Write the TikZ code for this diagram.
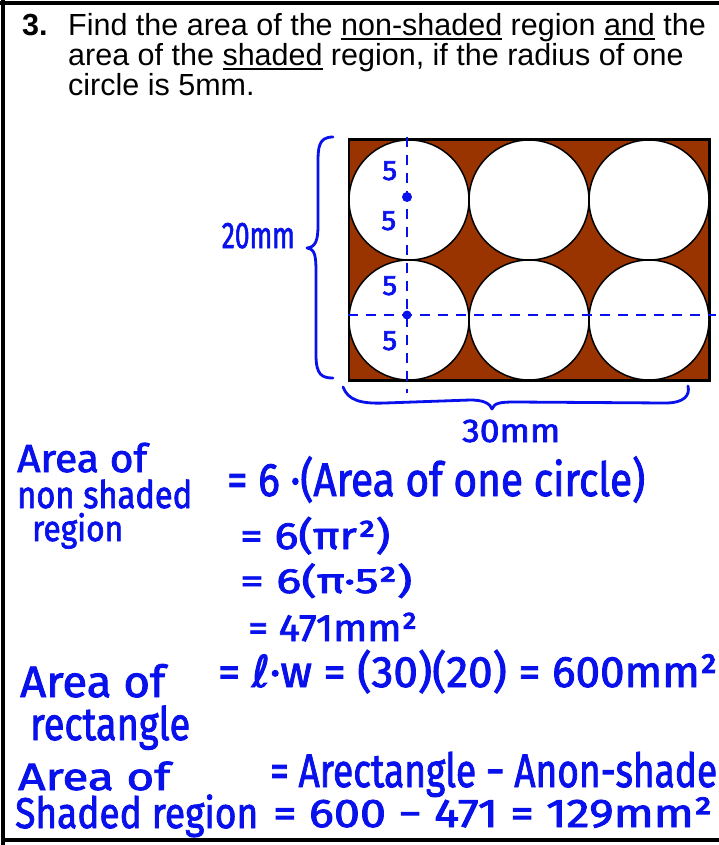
\documentclass[tikz,border=0pt]{standalone}
\usepackage{fontspec}
\setmainfont{Liberation Sans}
\newfontfamily\handfont{Fira Sans}[FakeBold=2]
\newfontfamily\symfont{DejaVu Sans}[FakeBold=2]
\usetikzlibrary{positioning}

\definecolor{ink}{RGB}{8,16,235}
\definecolor{rust}{RGB}{153,51,0}

% handwriting squeezed to a given width
\newcommand{\hand}[3]{\resizebox{#2pt}{\height}{\handfont\fontsize{#1}{#1}\selectfont #3}}
% underlined word
\newcommand{\ulword}[1]{\leavevmode\setbox0\hbox{#1}\rlap{\rule[-4.5pt]{\wd0}{2.2pt}}\box0\relax}

\tikzset{
  note/.style={text=ink, inner sep=0pt, anchor=base west},
  prompt/.style={font=\fontsize{30.5}{30.5}\selectfont, inner sep=0pt, anchor=base west},
  disc/.style={circle, draw=black, fill=white, line width=1.5pt, minimum size=120pt, inner sep=0pt},
  guide/.style={draw=ink, line width=2.6pt, dash pattern=on 10pt off 8pt},
  brace/.style={draw=ink, line width=2.8pt, line cap=round, line join=round},
}

\begin{document}
\begin{tikzpicture}[x=1pt, y=-1pt]
    \useasboundingbox (0,0) rectangle (719,845);

    % Frame
    \draw[line width=3.5pt] (0,3) -- (719,3);
    \draw[line width=3.5pt] (3,0) -- (3,845);
    \draw[line width=3.5pt] (5,840) -- (719,840);

    % Question
    \node[prompt] (num) at (22,36) {\textbf{3.}};
    \node[prompt] (q1) at (68,36) {Find the area of the \ulword{non-shaded} region \ulword{and} the};
    \node[prompt] (q2) at (68,66) {area of the \ulword{shaded} region, if the radius of one};
    \node[prompt] (q3) at (68,96) {circle is 5mm.};

    % Rectangle with six circles
    \node[draw=black, fill=rust, line width=1.5pt, minimum width=360pt, minimum height=240pt, inner sep=0pt] (box) at (529,260) {};
    \foreach \i in {0,1,2} {
        \foreach \j in {0,1} {
            \node[disc] (c\i\j) at (409+120*\i, 200+120*\j) {};
        }
    }
    \draw[line width=1.5pt] (box.north west) rectangle (box.south east);

    % Radius marks
    \coordinate (vtop) at (407,137);
    \coordinate (vbot) at (407,393);
    \coordinate (hend) at (716,315);
    \draw[guide] (vtop) -- (vbot);
    \draw[guide] (box.west |- hend) -- (hend);
    \fill[ink] (407,197) circle (5);
    \fill[ink] (407,315) circle (4.5);
    \node[note] (r1) at (382,180) {\hand{28}{15}{5}};
    \node[note] (r2) at (381,230) {\hand{28}{15}{5}};
    \node[note] (r3) at (382,295) {\hand{28}{15}{5}};
    \node[note] (r4) at (382,350) {\hand{28}{15}{5}};

    % Braces
    \coordinate (ltip) at (307,248);
    \coordinate (btip) at (492,409);
    \draw[brace] (333,137) .. controls (318,137) and (318,148) .. (318,165) -- (318,225)
        .. controls (318,242) and (315,247) .. (ltip)
        .. controls (315,249) and (316,256) .. (316,272) -- (316,355)
        .. controls (316,375) and (322,378) .. (333,378);
    \draw[brace] (343,387) .. controls (348,400) and (360,404) .. (385,403) -- (470,400)
        .. controls (485,400) and (490,404) .. (btip)
        .. controls (494,403) and (500,402) .. (515,402) -- (665,403)
        .. controls (685,403) and (690,395) .. (688,386);
    \node[note, anchor=base east] (wlab) at (295,248) {\hand{37}{73}{20mm}};
    \node[note] (llab) at (462,442) {\hand{33}{98}{30mm}};

    % Non-shaded area
    \node[note] (ta) at (17,472) {\hand{39}{130}{Area of}};
    \node[note] (tb) at (17,508) {\hand{38}{175}{non shaded}};
    \node[note] (tc) at (32,541) {\hand{36}{91}{region}};
    \node[note] (e1) at (227,496) {\hand{47}{418}{= 6 ·(Area of one circle)}};
    \node[note] (e2) at (240,549) {\hand{38}{150}{= 6(πr²)}};
    \node[note] (e3) at (240,593) {\hand{35}{172}{= 6(π·5²)}};
    \node[note] (e4) at (248,641) {\hand{38}{169}{= 471mm²}};

    % Rectangle area
    \node[note] (ra) at (20,697) {\hand{44}{145}{Area of}};
    \node[note] (rb) at (30,740) {\hand{46}{160}{rectangle}};
    \node[note] (re) at (218,687) {\hand{44}{499}{= {\symfont ℓ}·w = (30)(20) = 600mm²}};

    % Shaded area
    \node[note] (sa) at (18,790) {\hand{38}{152}{Area of}};
    \node[note] (sb) at (15,828) {\hand{43}{243}{Shaded region}};
    \node[note] (se1) at (270,787) {\hand{47}{447}{= Arectangle − Anon-shade}};
    \node[note] (se2) at (273,827) {\hand{40}{439}{= 600 − 471 = 129mm²}};

\end{tikzpicture}
\end{document}
